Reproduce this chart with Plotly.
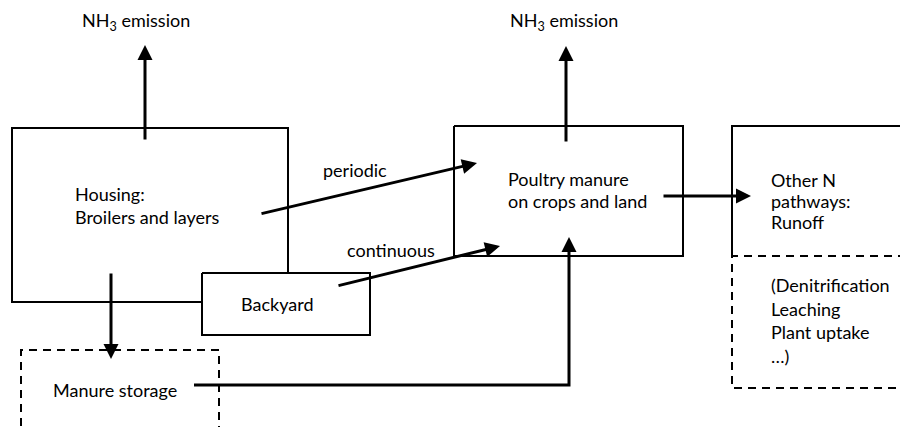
import plotly.graph_objects as go

W, H = 908, 427
PAD = 8  # page body margin of the viewer
FONT = "Lato, 'Open Sans', sans-serif"
INK = "#000000"

# solid outlines (polylines, pixel coords, y down)
solid_x = [
    [202, 12, 12, 288, 288],          # housing (notched by backyard)
    [202, 370, 370, 202, 202],        # backyard
    [454, 683, 683, 454, 454],        # poultry manure box
    [920, 732, 732],                  # other N, solid part
]
solid_y = [
    [302, 302, 128, 128, 273],
    [273, 273, 335, 335, 273],
    [126, 126, 256, 256, 126],
    [126, 126, 256],
]

# dashed outlines
dash_x = [
    [21, 21, 219, 219],               # manure storage
    [920, 732, 732, 920],             # other N, dashed part
]
dash_y = [
    [440, 350, 350, 440],
    [256, 256, 388, 388],
]

# storage -> poultry path (drawn as line, head added below)
path_x = [194, 569, 569]
path_y = [385, 385, 245]

# arrows: tail -> head
arrow_x0 = [145, 566, 111, 260, 337, 662, 569]
arrow_y0 = [141, 143, 272, 214, 286, 196, 250]
arrow_x1 = [145, 566, 111, 477, 500, 751, 569]
arrow_y1 = [45, 46, 359, 163, 246, 196, 237]

# text labels (left x, centre y)
labels = [
    "NH<sub>3</sub> emission", "NH<sub>3</sub> emission",
    "Housing:", "Broilers and layers", "Backyard", "Manure storage",
    "periodic", "continuous",
    "Poultry manure", "on crops and land",
    "Other N", "pathways:", "Runoff",
    "(Denitrification", "Leaching", "Plant uptake", "…)",
]
label_x = [80, 508, 73, 73, 239, 51, 321, 345, 506, 506, 769, 769, 769, 769, 769, 769, 769]
label_y = [21, 21, 194, 217, 304, 390, 170, 250, 179, 201, 180, 201, 222, 285, 309, 332, 356]

fig = go.Figure()

for xs, ys in zip(solid_x, solid_y):
    fig.add_trace(go.Scatter(x=xs, y=ys, mode="lines",
                             line=dict(color=INK, width=2), hoverinfo="skip"))
for xs, ys in zip(dash_x, dash_y):
    fig.add_trace(go.Scatter(x=xs, y=ys, mode="lines",
                             line=dict(color=INK, width=2, dash="8px,6px"),
                             hoverinfo="skip"))
fig.add_trace(go.Scatter(x=path_x, y=path_y, mode="lines",
                         line=dict(color=INK, width=3), hoverinfo="skip"))

for x0, y0, x1, y1 in zip(arrow_x0, arrow_y0, arrow_x1, arrow_y1):
    fig.add_annotation(x=x1, y=y1, ax=x0, ay=y0, xref="x", yref="y",
                       axref="x", ayref="y", text="", showarrow=True,
                       arrowhead=2, arrowsize=1, arrowwidth=3, arrowcolor=INK)

for t, x, y in zip(labels, label_x, label_y):
    fig.add_annotation(x=x, y=y, text=t, showarrow=False, xanchor="left",
                       yanchor="middle", font=dict(family=FONT, size=18, color=INK))

# the viewer page has an 8px body margin, so shrink the figure by that
fig.update_layout(
    width=W - PAD, height=H - PAD, margin=dict(l=0, r=0, t=0, b=0),
    paper_bgcolor="white", plot_bgcolor="white", showlegend=False,
)
fig.update_xaxes(range=[PAD, W], visible=False, fixedrange=True)
fig.update_yaxes(range=[H, PAD], visible=False, fixedrange=True)

fig.write_html("out.html")
